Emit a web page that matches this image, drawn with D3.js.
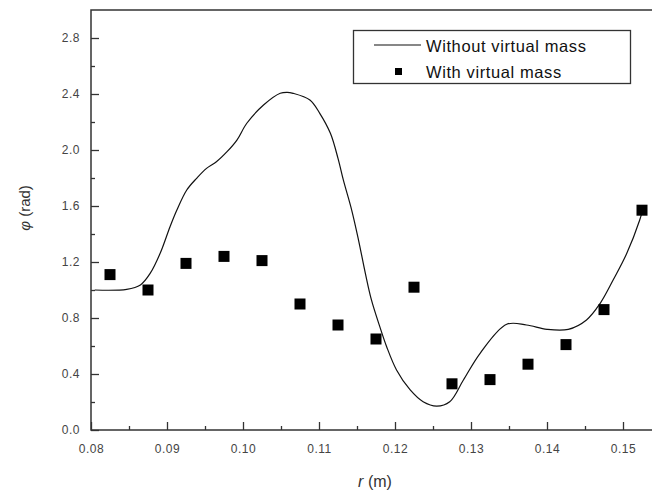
<!DOCTYPE html>
<html>
<head>
<meta charset="utf-8">
<script src="https://cdn.jsdelivr.net/npm/d3@7"></script>
<style>
  body { margin: 0; background: #fff; }
  svg { display: block; font-family: "Liberation Sans", Arial, sans-serif; }
</style>
</head>
<body>
<div id="chart"></div>
<script>
// line: without virtual mass
var curveR = [0.0805, 0.0847, 0.0865, 0.0878, 0.0891, 0.0904, 0.0913, 0.0926, 0.0939, 0.0952,
              0.0965, 0.0979, 0.0992, 0.1005, 0.1027, 0.1049, 0.1058, 0.1066, 0.1088, 0.1101,
              0.1115, 0.1125, 0.1132, 0.1143, 0.1152, 0.1161, 0.1169, 0.1180, 0.1189, 0.1202,
              0.1220, 0.1237, 0.1255, 0.1272, 0.1290, 0.1312, 0.1347, 0.1373, 0.1400, 0.1428,
              0.1452, 0.1470, 0.1487, 0.1505, 0.1522, 0.1525];
var curvePhi = [1.00, 1.005, 1.036, 1.12, 1.262, 1.452, 1.571, 1.714, 1.798, 1.869,
                1.916, 1.988, 2.071, 2.191, 2.321, 2.405, 2.412, 2.405, 2.357, 2.262,
                2.119, 1.94, 1.786, 1.571, 1.357, 1.119, 0.929, 0.738, 0.595, 0.429,
                0.286, 0.202, 0.171, 0.202, 0.357, 0.548, 0.755, 0.75, 0.719, 0.719,
                0.786, 0.905, 1.071, 1.262, 1.50, 1.557];

// squares: with virtual mass
var pointR = [0.0825, 0.0875, 0.0925, 0.0975, 0.1025, 0.1075, 0.1125, 0.1175, 0.1225, 0.1275,
              0.1325, 0.1375, 0.1425, 0.1475, 0.1525];
var pointPhi = [1.11, 1.00, 1.19, 1.24, 1.21, 0.90, 0.75, 0.65, 1.02, 0.33,
                0.36, 0.47, 0.61, 0.86, 1.57];

var xTicks = [0.08, 0.09, 0.10, 0.11, 0.12, 0.13, 0.14, 0.15];
var xMinor = [0.085, 0.095, 0.105, 0.115, 0.125, 0.135, 0.145];
var yTicks = [0.0, 0.4, 0.8, 1.2, 1.6, 2.0, 2.4, 2.8];
var yMinor = [0.2, 0.6, 1.0, 1.4, 1.8, 2.2, 2.6];

var W = 652, H = 496;
var pLeft = 91, pTop = 10, pRight = 661, pBottom = 430;

var svg = d3.select("#chart").append("svg").attr("width", W).attr("height", H);

var x = d3.scaleLinear().domain([0.08, 0.155]).range([pLeft, pRight]);
var y = d3.scaleLinear().domain([0, 3.0]).range([pBottom, pTop]);

// minor ticks first (no labels)
svg.append("g").attr("transform", "translate(0," + pBottom + ")")
  .call(d3.axisBottom(x).tickValues(xMinor).tickSizeInner(-4).tickSizeOuter(0).tickFormat(""))
  .call(function(g) { g.select(".domain").remove(); });
svg.append("g").attr("transform", "translate(" + pLeft + ",0)")
  .call(d3.axisLeft(y).tickValues(yMinor).tickSizeInner(-4).tickSizeOuter(0).tickFormat(""))
  .call(function(g) { g.select(".domain").remove(); });

var xAxis = svg.append("g").attr("transform", "translate(0," + pBottom + ")")
  .call(d3.axisBottom(x).tickValues(xTicks).tickSizeInner(-8).tickSizeOuter(0)
        .tickPadding(14).tickFormat(d3.format(".2f")));
xAxis.select(".domain").remove();

var yAxis = svg.append("g").attr("transform", "translate(" + pLeft + ",0)")
  .call(d3.axisLeft(y).tickValues(yTicks).tickSizeInner(-8).tickSizeOuter(0)
        .tickPadding(11).tickFormat(d3.format(".1f")));
yAxis.select(".domain").remove();

svg.selectAll(".tick line").attr("stroke", "#333").attr("stroke-width", 1.3);
svg.selectAll(".tick text").attr("font-size", 12).attr("fill", "#444")
  .attr("font-family", "Liberation Sans, Arial, sans-serif").style("letter-spacing", "0.5px");

// frame
svg.append("path")
  .attr("d", "M" + pRight + "," + pTop + "H" + pLeft + "V" + pBottom + "H" + pRight)
  .attr("fill", "none").attr("stroke", "#333").attr("stroke-width", 1.5);

// curve
var lineData = curveR.map(function(r, i) { return [r, curvePhi[i]]; });
var line = d3.line()
  .x(function(d) { return x(d[0]); })
  .y(function(d) { return y(d[1]); })
  .curve(d3.curveCatmullRom.alpha(0.5));
svg.append("path").datum(lineData)
  .attr("d", line).attr("fill", "none").attr("stroke", "#111").attr("stroke-width", 1.2);

// squares
var sq = 11;
svg.selectAll("rect.pt").data(pointR).enter().append("rect")
  .attr("class", "pt")
  .attr("x", function(d) { return x(d) - sq / 2; })
  .attr("y", function(d, i) { return y(pointPhi[i]) - sq / 2; })
  .attr("width", sq).attr("height", sq).attr("fill", "#000");

// legend
var lg = svg.append("g");
lg.append("rect").attr("x", 353.5).attr("y", 30.5).attr("width", 277).attr("height", 53)
  .attr("fill", "#fff").attr("stroke", "#333").attr("stroke-width", 1.3);
lg.append("line").attr("x1", 374).attr("x2", 421).attr("y1", 45).attr("y2", 45)
  .attr("stroke", "#111").attr("stroke-width", 1.2);
lg.append("rect").attr("x", 395).attr("y", 68).attr("width", 7).attr("height", 7).attr("fill", "#000");
lg.append("text").attr("x", 426).attr("y", 52).attr("font-size", 16.5).attr("fill", "#111")
  .style("letter-spacing", "0.6px").text("Without virtual mass");
lg.append("text").attr("x", 426).attr("y", 78).attr("font-size", 16.5).attr("fill", "#111")
  .style("letter-spacing", "0.6px").text("With virtual mass");

// axis titles
var xt = svg.append("text").attr("x", 375).attr("y", 487).attr("text-anchor", "middle")
  .attr("font-size", 16).attr("fill", "#333");
xt.append("tspan").attr("font-style", "italic").text("r");
xt.append("tspan").text(" (m)");

var yt = svg.append("text").attr("transform", "translate(30,208) rotate(-90)")
  .attr("text-anchor", "middle").attr("font-size", 15).attr("fill", "#333");
yt.append("tspan").attr("font-style", "italic").text("φ");
yt.append("tspan").text(" (rad)");
</script>
</body>
</html>
